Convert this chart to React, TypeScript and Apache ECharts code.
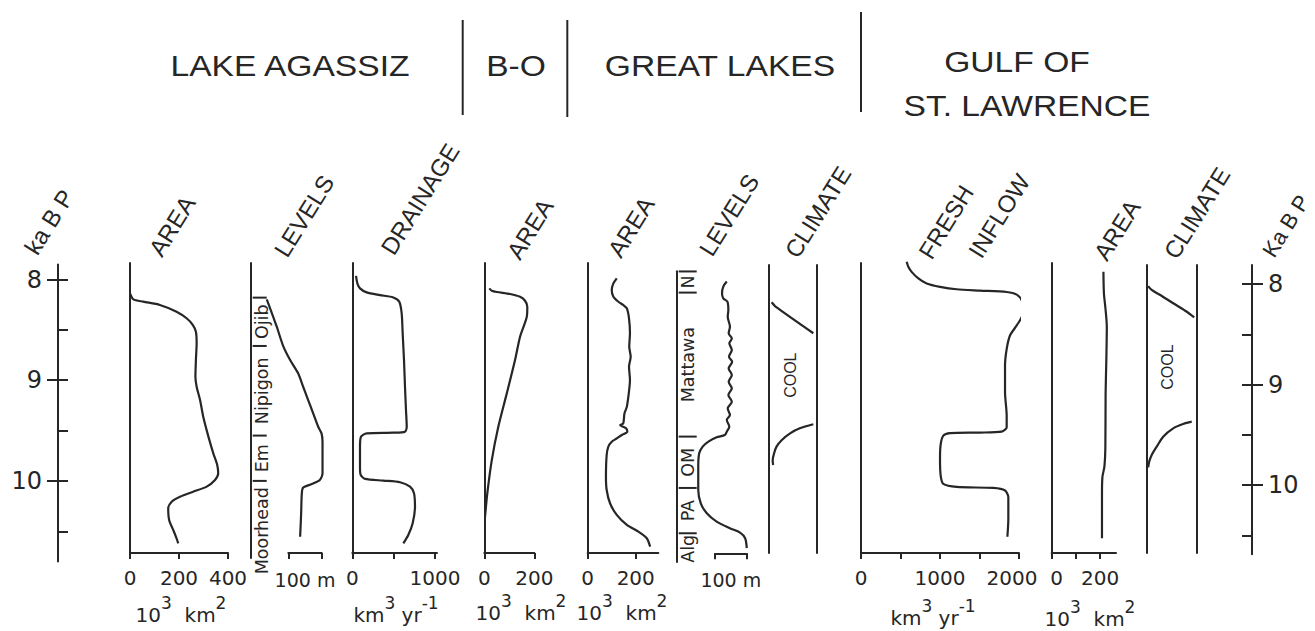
import React, { useEffect, useRef } from "react";
import * as echarts from "echarts";

// ---------------- DATA ----------------
const timeMajorTicks = [8, 9, 10];
const timeMinorTicks = [8, 8.5, 9, 9.5, 10, 10.5];

const groupTitles = ["LAKE AGASSIZ", "B-O", "GREAT LAKES", "GULF OF", "ST. LAWRENCE"];
const columnHeaders = ["AREA", "LEVELS", "DRAINAGE", "AREA", "AREA", "LEVELS", "CLIMATE", "FRESH", "INFLOW", "AREA", "CLIMATE"];
const timeTitles = ["ka B P", "Ka B P"];

// Lake Agassiz area (10^3 km^2)
const agassizAreaT = [8.137, 8.197, 8.22, 8.253, 8.32, 8.385, 8.45, 8.518, 8.634, 8.8, 8.965, 9.065, 9.197, 9.363, 9.56, 9.726, 9.842, 9.925, 9.991, 10.057, 10.107, 10.157, 10.207, 10.273, 10.39, 10.49, 10.57, 10.62];
const agassizAreaV = [0, 14, 54, 122, 190, 231, 256, 269, 272, 269, 267, 272, 286, 299, 320, 340, 356, 360, 347, 313, 258, 204, 170, 156, 160, 177, 190, 197];
const agassizAreaTicks = [0, 200, 400];

// Lake Agassiz levels (relative m)
const agassizLevelT = [8.197, 8.303, 8.469, 8.667, 8.8, 8.932, 9.065, 9.197, 9.33, 9.462, 9.528, 9.61, 9.925, 9.991, 10.031, 10.067, 10.123, 10.321, 10.554];
const agassizLevelV = [48, 60, 78, 98, 118, 142, 157, 172, 187, 202, 212, 215, 215, 207, 183, 157, 153, 151, 148];
const agassizStageNames = ["Ojib", "Nipigon", "Em", "Moorhead"];
const agassizStageTop = [8.18, 8.66, 9.55, 10.0];
const agassizStageBottom = [8.66, 9.55, 10.0, 10.99];

// Lake Agassiz drainage (km^3 / yr)
const drainageT = [7.965, 8.038, 8.088, 8.128, 8.155, 8.178, 8.221, 8.337, 8.536, 8.8, 9.065, 9.296, 9.462, 9.511, 9.521, 9.528, 9.561, 9.66, 9.859, 9.941, 9.98, 9.997, 10.013, 10.057, 10.123, 10.256, 10.42, 10.537, 10.62];
const drainageV = [45, 61, 93, 174, 335, 496, 568, 597, 609, 625, 637, 649, 658, 637, 496, 174, 105, 93, 93, 101, 154, 375, 577, 698, 746, 758, 730, 677, 617];
const drainageTicks = [0, 500, 1000];
const drainageLabels = [0, 1000];

// Barlow-Ojibway area
const boAreaT = [8.088, 8.111, 8.124, 8.144, 8.171, 8.211, 8.27, 8.37, 8.569, 8.8, 9.131, 9.462, 9.793, 10.123, 10.356];
const boAreaV = [20, 30, 50, 103, 143, 163, 172, 170, 143, 123, 90, 56, 30, 12, 3];
const boAreaTicks = [0, 200];

// Great Lakes area
const glAreaT = [7.988, 8.038, 8.104, 8.171, 8.221, 8.253, 8.287, 8.386, 8.535, 8.667, 8.766, 8.866, 8.998, 9.131, 9.263, 9.33, 9.429, 9.446, 9.479, 9.511, 9.544, 9.578, 9.611, 9.66, 9.743, 9.958, 10.09, 10.222, 10.338, 10.437, 10.503, 10.569, 10.652];
const glAreaV = [121, 107, 100, 107, 128, 148, 163, 172, 176, 173, 179, 172, 176, 171, 163, 153, 148, 135, 160, 165, 142, 121, 100, 86, 79, 76, 79, 93, 121, 163, 211, 246, 260];
const glAreaTicks = [0, 200];

// Great Lakes levels (relative m)
const glLevelT = [8.02, 8.07, 8.137, 8.187, 8.22, 8.303, 8.37, 8.469, 8.535, 8.585, 8.634, 8.7, 8.766, 8.816, 8.883, 8.949, 9.015, 9.081, 9.147, 9.214, 9.28, 9.346, 9.395, 9.462, 9.511, 9.544, 9.567, 9.61, 9.66, 9.726, 9.859, 10.09, 10.222, 10.321, 10.404, 10.47, 10.513, 10.569, 10.668];
const glLevelV = [158, 147, 143, 147, 160, 163, 161, 168, 164, 174, 166, 174, 165, 175, 164, 174, 164, 174, 163, 174, 161, 168, 158, 166, 158, 152, 126, 100, 82, 71, 68, 68, 76, 95, 126, 168, 200, 216, 221];
const glStageNames = ["N", "Mattawa", "OM", "PA", "Alg"];
const glStageTop = [7.92, 8.13, 9.56, 10.07, 10.52];
const glStageBottom = [8.13, 9.56, 10.07, 10.52, 10.83];

// Great Lakes climate (relative index 0..1)
const glClimateUpperT = [8.226, 8.27, 8.534];
const glClimateUpperX = [0.07, 0.15, 0.93];
const glClimateLowerT = [9.842, 9.792, 9.726, 9.66, 9.594, 9.528, 9.478, 9.438];
const glClimateLowerX = [0.1, 0.09, 0.12, 0.17, 0.28, 0.45, 0.65, 0.93];
const glCool = [0.46, 8.95];

// Gulf of St. Lawrence fresh inflow (km^3 / yr)
const inflowT = [7.824, 7.874, 7.924, 7.99, 8.04, 8.073, 8.097, 8.11, 8.124, 8.15, 8.207, 8.29, 8.373, 8.456, 8.556, 8.69, 8.855, 9.12, 9.35, 9.47, 9.51, 9.52, 9.525, 9.55, 9.635, 9.78, 9.95, 10.03, 10.06, 10.07, 10.095, 10.16, 10.375, 10.555];
const inflowV = [578, 599, 641, 726, 831, 1000, 1211, 1507, 1844, 1971, 2034, 2055, 2034, 1971, 1886, 1844, 1823, 1823, 1844, 1844, 1781, 1507, 1127, 1042, 1009, 1000, 1009, 1042, 1211, 1675, 1823, 1865, 1865, 1853];
const inflowTicks = [0, 500, 1000, 1500, 2000];
const inflowLabels = [0, 1000, 2000];

// Gulf area
const gulfAreaT = [7.923, 8.137, 8.303, 8.469, 8.8, 9.13, 9.66, 9.859, 9.958, 10.123, 10.57];
const gulfAreaV = [214, 216, 223, 228, 226, 223, 222, 218, 210, 208, 208];
const gulfAreaTicks = [0, 100, 200];
const gulfAreaLabels = [0, 200];

// Gulf climate
const gulfClimateUpperT = [8.065, 8.104, 8.154, 8.236, 8.31, 8.375];
const gulfClimateUpperX = [0.03, 0.1, 0.27, 0.53, 0.77, 0.95];
const gulfClimateLowerT = [9.865, 9.809, 9.743, 9.66, 9.561, 9.478, 9.435, 9.412];
const gulfClimateLowerX = [0.03, 0.05, 0.1, 0.2, 0.33, 0.53, 0.73, 0.9];
const gulfCool = [0.42, 8.87];

const scaleBarTicks = [0, 100];
const scaleBarName = "100 m";

// ---------------- STYLE / LAYOUT ----------------
const FONT = "'Liberation Sans', Arial, sans-serif";
const NUM_FONT = "'DejaVu Sans', sans-serif";
const INK = "#262626";
const K = 100.7; // px per ka
const Y8 = 279.5; // px of 8 ka
const plain = (v: number) => String(v);

function buildOption() {
  const grids: any[] = [];
  const xAxis: any[] = [];
  const yAxis: any[] = [];
  const series: any[] = [];
  const lineStyle = { color: INK, width: 2 };
  const labelRich = {
    n: { fontSize: 20, fontFamily: NUM_FONT, color: INK },
    l: { fontSize: 20, fontFamily: NUM_FONT, color: INK, padding: [0, 0, 0, 10] },
    r: { fontSize: 20, fontFamily: NUM_FONT, color: INK, padding: [0, 14, 0, 0] },
  };

  function panel(o: any) {
    const k = o.k ?? K;
    const y8 = o.y8 ?? Y8;
    const gi = grids.length;
    grids.push({
      left: o.x0, width: o.x1 - o.x0,
      top: y8 + (o.tTop - 8) * k, height: (o.tBot - o.tTop) * k,
      containLabel: false, outerBoundsMode: "none",
    });
    const xi = xAxis.length;
    const shift = o.shift || {};
    xAxis.push({
      type: "value", gridIndex: gi, min: o.xMin ?? 0, max: o.xMax, position: "bottom",
      axisLine: { show: !!o.showX, onZero: false, lineStyle },
      axisTick: { show: !!o.ticks, length: 6, customValues: o.ticks, lineStyle },
      axisLabel: {
        show: !!o.labels, customValues: o.labels,
        formatter: (v: number) => `{${shift[v] || "n"}|${plain(v)}}`,
        rich: labelRich, fontSize: 20, fontFamily: NUM_FONT, color: INK, margin: 15,
      },
      splitLine: { show: false },
    });
    const yi = yAxis.length;
    const yBase = {
      type: "value", gridIndex: gi, min: o.tTop, max: o.tBot, inverse: true,
      axisTick: { show: false }, axisLabel: { show: false }, splitLine: { show: false },
    };
    yAxis.push({ ...yBase, position: "left", axisLine: { show: true, onZero: false, lineStyle } });
    if (o.rightLine) {
      yAxis.push({ ...yBase, position: "right", axisLine: { show: true, onZero: false, lineStyle } });
    }
    return { xi, yi };
  }

  function scaleBar(x0: number, x1: number, y: number) {
    const gi = grids.length;
    grids.push({ left: x0, width: x1 - x0, top: y - 1, height: 1, containLabel: false, outerBoundsMode: "none" });
    xAxis.push({
      type: "value", gridIndex: gi, min: 0, max: 100, position: "bottom",
      axisLine: { show: true, onZero: false, lineStyle },
      axisTick: { show: true, length: 6, customValues: scaleBarTicks, lineStyle },
      axisLabel: { show: false }, splitLine: { show: false },
      name: scaleBarName, nameLocation: "middle", nameGap: 17,
      nameTextStyle: { fontSize: 19, fontFamily: NUM_FONT, color: INK },
    });
    yAxis.push({ type: "value", gridIndex: gi, show: false, min: 0, max: 1 });
  }

  function timeAxis(xLine: number, side: "left" | "right", tMin: number, tMax: number, y8: number, k: number) {
    const left = side === "left" ? xLine : xLine - 10;
    const gridPos = { left, width: 10, top: y8 + (tMin - 8) * k, height: (tMax - tMin) * k, containLabel: false, outerBoundsMode: "none" };
    let gi = grids.length;
    grids.push({ ...gridPos });
    xAxis.push({ type: "value", gridIndex: gi, show: false, min: 0, max: 1 });
    yAxis.push({
      type: "value", gridIndex: gi, min: tMin, max: tMax, inverse: true, position: side,
      axisLine: { show: true, onZero: false, lineStyle },
      axisTick: { show: true, inside: true, length: 10, customValues: timeMinorTicks, lineStyle },
      axisLabel: { show: false }, splitLine: { show: false },
    });
    gi = grids.length;
    grids.push({ ...gridPos });
    xAxis.push({ type: "value", gridIndex: gi, show: false, min: 0, max: 1 });
    yAxis.push({
      type: "value", gridIndex: gi, min: tMin, max: tMax, inverse: true, position: side,
      axisLine: { show: false, onZero: false },
      axisTick: { show: true, inside: false, length: 11, customValues: timeMajorTicks, lineStyle },
      axisLabel: { show: true, customValues: timeMajorTicks, formatter: plain, fontSize: 24, fontFamily: NUM_FONT, color: INK, margin: 16 },
      splitLine: { show: false },
    });
  }

  function curve(ax: any, xs: number[], ts: number[], smooth = 0.25) {
    series.push({
      type: "line", xAxisIndex: ax.xi, yAxisIndex: ax.yi,
      data: xs.map((v, i) => [v, ts[i]]),
      showSymbol: false, symbol: "none", smooth, clip: false, silent: true,
      lineStyle: { color: INK, width: 2.2 },
    });
  }

  function stages(ax: any, names: string[], tops: number[], bots: number[], tickLen: number, dx: number) {
    series.push({
      type: "custom", xAxisIndex: ax.xi, yAxisIndex: ax.yi, clip: false, silent: true,
      data: names.map((n, i) => ({ name: n, value: [0, tops[i], bots[i]] })),
      encode: { x: 0, y: [1, 2] },
      renderItem: (params: any, api: any) => {
        const p0 = api.coord([api.value(0), api.value(1)]);
        const p1 = api.coord([api.value(0), api.value(2)]);
        return {
          type: "group",
          children: [
            { type: "line", shape: { x1: p0[0] + 2, y1: p0[1], x2: p0[0] + tickLen, y2: p0[1] }, style: { stroke: INK, lineWidth: 2 } },
            {
              type: "text", x: p0[0] + dx, y: (p0[1] + p1[1]) / 2, rotation: Math.PI / 2,
              style: { text: names[params.dataIndex], fontSize: 17.5, fontFamily: NUM_FONT, fill: INK, align: "center", verticalAlign: "middle" },
            },
          ],
        };
      },
    });
  }

  function cool(ax: any, pt: number[]) {
    series.push({
      type: "custom", xAxisIndex: ax.xi, yAxisIndex: ax.yi, clip: false, silent: true,
      data: [pt],
      renderItem: (_p: any, api: any) => {
        const p = api.coord([api.value(0), api.value(1)]);
        return {
          type: "text", x: p[0], y: p[1], rotation: Math.PI / 2,
          style: { text: "COOL", fontSize: 16, fontFamily: FONT, fill: INK, align: "center", verticalAlign: "middle" },
        };
      },
    });
  }

  // time axes
  timeAxis(58, "left", 7.85, 10.8, Y8, K);
  timeAxis(1252, "right", 7.81, 10.69, 284, 100.5);

  // Lake Agassiz
  const p1 = panel({ x0: 130, x1: 228, tTop: 7.836, tBot: 10.716, xMax: 400, ticks: agassizAreaTicks, labels: agassizAreaTicks, showX: true });
  curve(p1, agassizAreaV, agassizAreaT);
  const p2 = panel({ x0: 250.7, x1: 324.2, tTop: 7.836, tBot: 10.766, xMax: 220, showX: false });
  curve(p2, agassizLevelV, agassizLevelT);
  stages(p2, agassizStageNames, agassizStageTop, agassizStageBottom, 16, 11);
  scaleBar(288.3, 321.7, 553);
  const p3 = panel({ x0: 352.3, x1: 437, tTop: 7.836, tBot: 10.716, xMax: 1024, ticks: drainageTicks, labels: drainageLabels, showX: true });
  curve(p3, drainageV, drainageT);

  // B-O
  const p4 = panel({ x0: 484.3, x1: 534.3, tTop: 7.836, tBot: 10.716, xMax: 200, ticks: boAreaTicks, labels: boAreaTicks, showX: true });
  curve(p4, boAreaV, boAreaT);

  // Great Lakes
  const p5 = panel({ x0: 587.7, x1: 658.3, tTop: 7.836, tBot: 10.716, xMax: 294, ticks: glAreaTicks, labels: glAreaTicks, showX: true });
  curve(p5, glAreaV, glAreaT);
  const p6 = panel({ x0: 676.7, x1: 748, tTop: 7.917, tBot: 10.805, xMax: 225, showX: false });
  curve(p6, glLevelV, glLevelT, 0.3);
  stages(p6, glStageNames, glStageTop, glStageBottom, 20, 11.6);
  scaleBar(715, 746.7, 553.3);
  const p7 = panel({ x0: 768.3, x1: 816.7, tTop: 7.856, tBot: 10.716, xMax: 1, showX: false, rightLine: true });
  curve(p7, glClimateUpperX, glClimateUpperT, 0.2);
  curve(p7, glClimateLowerX, glClimateLowerT, 0.3);
  cool(p7, glCool);

  // Gulf of St. Lawrence
  const p8 = panel({ x0: 861, x1: 1019, tTop: 7.836, tBot: 10.716, xMax: 2000, ticks: inflowTicks, labels: inflowLabels, showX: true, shift: { 2000: "r" } });
  curve(p8, inflowV, inflowT);
  const p9 = panel({ x0: 1051.7, x1: 1116, tTop: 7.836, tBot: 10.716, xMax: 266, ticks: gulfAreaTicks, labels: gulfAreaLabels, showX: true, shift: { 0: "l" } });
  curve(p9, gulfAreaV, gulfAreaT);
  const p10 = panel({ x0: 1146.7, x1: 1196.7, tTop: 7.856, tBot: 10.716, xMax: 1, showX: false, rightLine: true });
  curve(p10, gulfClimateUpperX, gulfClimateUpperT, 0.3);
  curve(p10, gulfClimateLowerX, gulfClimateLowerT, 0.3);
  cool(p10, gulfCool);

  // ---------- graphic decorations ----------
  const graphic: any[] = [];
  const titlePos = [[290, 66], [516, 66], [720, 66], [1017, 62], [1027, 106]];
  groupTitles.forEach((t, i) =>
    graphic.push({
      type: "text", x: titlePos[i][0], y: titlePos[i][1], scaleX: 1.12,
      style: { text: t, fontSize: 30, fontFamily: FONT, fill: INK, align: "center", verticalAlign: "middle" },
    })
  );
  const seps = [[462.7, 20, 115], [567.3, 20, 117], [861, 12, 112]];
  seps.forEach((s) =>
    graphic.push({ type: "line", shape: { x1: s[0], y1: s[1], x2: s[0], y2: s[2] }, style: { stroke: INK, lineWidth: 2 } })
  );
  const rot = (58 * Math.PI) / 180;
  const headerPos = [[172, 226], [304, 216], [420, 199], [530, 229], [631, 227], [729, 215], [818, 212], [946, 222], [999, 216], [1117, 230], [1197, 213]];
  columnHeaders.forEach((t, i) =>
    graphic.push({
      type: "text", x: headerPos[i][0], y: headerPos[i][1], rotation: rot,
      style: { text: t, fontSize: 24, fontFamily: FONT, fill: INK, align: "center", verticalAlign: "middle" },
    })
  );
  const timeTitlePos = [[49, 222, 24], [1286, 226, 22]];
  timeTitles.forEach((t, i) =>
    graphic.push({
      type: "text", x: timeTitlePos[i][0], y: timeTitlePos[i][1], rotation: rot,
      style: { text: t, fontSize: timeTitlePos[i][2], fontFamily: FONT, fill: INK, align: "center", verticalAlign: "middle" },
    })
  );
  const rich = {
    b: { fontSize: 20, fontFamily: NUM_FONT, fill: INK },
    s: { fontSize: 17, fontFamily: NUM_FONT, fill: INK, padding: [0, 0, 24, 0] },
  };
  const areaUnit = "{b|10}{s|3}{b|  km}{s|2}";
  const fluxUnit = "{b|km}{s|3}{b| yr}{s|-1}";
  const unitPos: [number, number, string][] = [
    [181, 615, areaUnit], [396, 615, fluxUnit], [521, 613, areaUnit], [622, 613, areaUnit], [933, 618, fluxUnit], [1090, 619, areaUnit],
  ];
  unitPos.forEach((u) =>
    graphic.push({
      type: "text", x: u[0], y: u[1],
      style: { text: u[2], rich, fontSize: 20, fontFamily: NUM_FONT, fill: INK, align: "center", verticalAlign: "middle" },
    })
  );

  return {
    animation: false,
    backgroundColor: "#ffffff",
    grid: grids,
    xAxis,
    yAxis,
    series,
    graphic,
  };
}

export default function App() {
  const ref = useRef<HTMLDivElement>(null);
  useEffect(() => {
    const chart = echarts.init(ref.current!, null, { renderer: "svg" });
    chart.setOption(buildOption() as any);
    return () => chart.dispose();
  }, []);
  return (
    <div
      ref={ref}
      style={{ position: "fixed", left: 0, top: 0, width: 1315, height: 631, background: "#fff" }}
    />
  );
}
